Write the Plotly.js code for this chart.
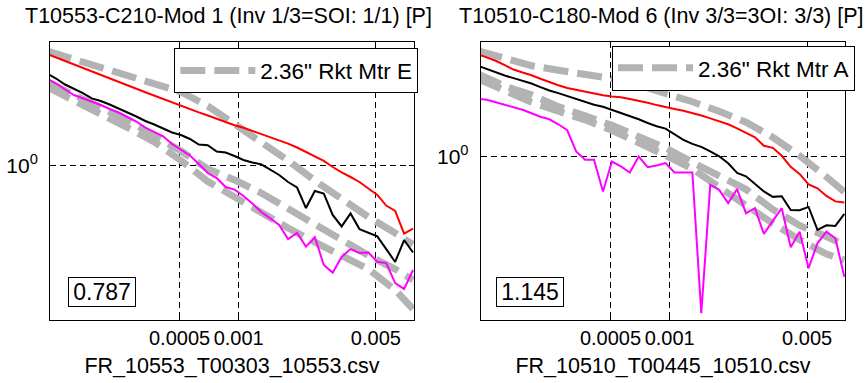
<!DOCTYPE html>
<html>
<head>
<meta charset="utf-8">
<script src="https://cdn.plot.ly/plotly-3.0.1.min.js"></script>
<style>html,body{margin:0;padding:0;background:#fff;}#chart{width:866px;height:383px;}</style>
</head>
<body>
<div id="chart"></div>
<script>
// ---- data ----
const period = [1.058e-4, 1.175e-4, 1.305e-4, 1.449e-4, 1.608e-4, 1.786e-4, 1.983e-4, 2.201e-4, 2.444e-4, 2.714e-4,
  3.013e-4, 3.345e-4, 3.715e-4, 4.124e-4, 4.579e-4, 5.085e-4, 5.645e-4, 6.268e-4, 6.960e-4, 7.728e-4,
  8.581e-4, 9.527e-4, 1.058e-3, 1.174e-3, 1.304e-3, 1.448e-3, 1.608e-3, 1.785e-3, 1.983e-3, 2.201e-3,
  2.443e-3, 2.714e-3, 3.012e-3, 3.345e-3, 3.714e-3, 4.124e-3, 4.578e-3, 5.084e-3, 5.644e-3, 6.267e-3,
  6.958e-3, 7.726e-3];
const boundPeriod = [1.058e-4, 1.449e-4, 1.983e-4, 2.714e-4, 3.715e-4, 5.085e-4, 6.960e-4, 9.527e-4,
  1.304e-3, 1.785e-3, 2.443e-3, 3.345e-3, 4.578e-3, 6.267e-3, 7.726e-3];

// left panel: T10553-C210-Mod 1
const redL = [3.618,3.479,3.342,3.214,3.087,2.965,2.848,2.738,2.630,2.526,2.427,2.331,2.241,2.153,2.068,1.986,1.916,1.849,1.784,1.720,1.644,1.594,1.547,1.494,1.445,1.395,1.347,1.290,1.233,1.171,1.118,1.056,0.985,0.925,0.878,0.829,0.769,0.714,0.632,0.594,0.458,0.485];
const blackL = [2.891,2.729,2.547,2.432,2.309,2.170,2.106,2.023,1.939,1.845,1.762,1.673,1.607,1.540,1.466,1.424,1.360,1.276,1.265,1.178,1.164,1.118,1.068,1.038,1.014,0.957,0.899,0.829,0.778,0.614,0.747,0.726,0.567,0.497,0.577,0.482,0.463,0.443,0.383,0.330,0.425,0.368];
const magentaL = [2.729,2.576,2.404,2.257,2.175,2.094,2.012,1.921,1.845,1.752,1.663,1.552,1.474,1.403,1.284,1.205,1.125,1.020,0.919,0.868,0.782,0.759,0.706,0.647,0.587,0.545,0.505,0.430,0.461,0.394,0.439,0.319,0.292,0.350,0.383,0.366,0.368,0.331,0.326,0.259,0.242,0.301];
const upperL = [3.745,3.416,3.062,2.809,2.576,2.336,1.989,1.616,1.291,1.062,0.843,0.682,0.554,0.461,0.404];
const midL = [2.621,2.257,1.954,1.683,1.416,1.184,0.963,0.848,0.730,0.607,0.505,0.423,0.356,0.304,0.268];
const lowL = [2.475,2.131,1.834,1.552,1.314,1.062,0.834,0.693,0.587,0.488,0.415,0.356,0.304,0.239,0.192];

// right panel: T10510-C180-Mod 6
const redR = [3.254,3.145,3.020,2.868,2.729,2.636,2.556,2.455,2.358,2.278,2.206,2.156,2.109,2.065,2.030,2.000,1.982,1.943,1.905,1.862,1.813,1.768,1.734,1.698,1.656,1.607,1.557,1.504,1.454,1.388,1.318,1.252,1.135,1.109,1.012,0.891,0.822,0.729,0.696,0.638,0.599,0.591];
const blackR = [2.851,2.738,2.636,2.547,2.472,2.399,2.323,2.231,2.143,2.080,2.014,1.939,1.877,1.820,1.778,1.718,1.660,1.603,1.540,1.476,1.421,1.384,1.296,1.216,1.161,1.122,1.065,1.006,0.928,0.832,0.799,0.733,0.672,0.631,0.635,0.543,0.541,0.562,0.432,0.455,0.452,0.519];
const magentaR = [1.950,1.928,1.873,1.820,1.768,1.718,1.650,1.585,1.540,1.454,1.357,1.065,0.966,0.966,0.671,0.947,0.896,0.835,1.003,0.888,0.905,0.930,0.835,0.835,0.835,0.1654,0.724,0.684,0.587,0.690,0.523,0.554,0.412,0.479,0.554,0.3536,0.423,0.2776,0.370,0.423,0.392,0.252];
const upperR = [3.388,3.090,2.851,2.707,2.591,2.460,2.278,2.089,1.884,1.689,1.488,1.252,1.012,0.794,0.668];
const midR = [2.600,2.252,2.042,1.782,1.603,1.437,1.259,1.109,0.939,0.808,0.688,0.546,0.454,0.400,0.363];
const lowR = [2.455,2.126,1.873,1.689,1.531,1.357,1.182,1.017,0.871,0.700,0.572,0.465,0.385,0.327,0.305];

const titles = ['T10553-C210-Mod 1 (Inv 1/3=SOI: 1/1) [P]', 'T10510-C180-Mod 6 (Inv 3/3=3OI: 3/3) [P]'];
const fileNames = ['FR_10553_T00303_10553.csv', 'FR_10510_T00445_10510.csv'];
const legendNames = ['2.36" Rkt Mtr E', '2.36" Rkt Mtr A'];
const scores = ['0.787', '1.145'];
const xTickVals = [0.0005, 0.001, 0.005];
const xTickText = ['0.0005', '0.001', '0.005'];
const yTickVals = [1];
const yTickText = ['10<sup>0</sup>'];

// ---- drawing ----
const FONT = 'Liberation Sans, Arial, Helvetica, sans-serif';
const GRAY = '#b3b3b3';

function panel(xa, ya, leg, red, black, magenta, up, mid, low, name) {
  const out = [];
  [[up, true], [mid, false], [low, false]].forEach(([v, show]) => {
    out.push({x: boundPeriod, y: v, xaxis: xa, yaxis: ya, type: 'scatter', mode: 'lines',
      name: name, legend: leg, showlegend: show,
      line: {color: GRAY, width: 7, dash: '25px,9px'}});
  });
  out.push({x: period, y: red, xaxis: xa, yaxis: ya, mode: 'lines', showlegend: false, line: {color: '#ff0000', width: 2}});
  out.push({x: period, y: black, xaxis: xa, yaxis: ya, mode: 'lines', showlegend: false, line: {color: '#000000', width: 2}});
  out.push({x: period, y: magenta, xaxis: xa, yaxis: ya, mode: 'lines', showlegend: false, line: {color: '#ff00ff', width: 2}});
  return out;
}

const data = [].concat(
  panel('x', 'y', 'legend', redL, blackL, magentaL, upperL, midL, lowL, legendNames[0]),
  panel('x2', 'y2', 'legend2', redR, blackR, magentaR, upperR, midR, lowR, legendNames[1])
);

function xax(domain, anchor, title) {
  return {type: 'log', range: [-3.961, -2.107], domain: domain, anchor: anchor,
    tickvals: xTickVals, ticktext: xTickText, tickangle: 0,
    ticks: 'inside', ticklen: 5, tickcolor: '#000', showline: true, linecolor: '#000', linewidth: 1,
    mirror: 'allticks', showgrid: true, gridcolor: '#000', gridwidth: 1, griddash: '6px,4px',
    zeroline: false, tickfont: {size: 20, family: FONT, color: '#000'},
    title: {text: title, font: {size: 21.5, family: FONT, color: '#000'}, standoff: 9}};
}
function yax(domain, anchor, range) {
  return {type: 'log', range: range, domain: domain, anchor: anchor,
    tickvals: yTickVals, ticktext: yTickText, ticklabelstandoff: 7,
    ticks: 'inside', ticklen: 5, tickcolor: '#000', showline: true, linecolor: '#000', linewidth: 1,
    mirror: 'allticks', showgrid: true, gridcolor: '#000', gridwidth: 1, griddash: '6px,4px',
    zeroline: false, tickfont: {size: 21, family: FONT, color: '#000'}};
}

const yDom = [0.1645, 0.8903];
const legendBase = {bgcolor: '#fff', bordercolor: '#000', borderwidth: 1, xanchor: 'left', yanchor: 'top',
  font: {size: 22.5, family: FONT, color: '#000'}, itemwidth: 75};

const layout = {
  width: 866, height: 383,
  margin: {l: 0, r: 0, t: 0, b: 0, pad: 0},
  paper_bgcolor: '#fff', plot_bgcolor: '#fff',
  font: {family: FONT, color: '#000'},
  xaxis: xax([0.05774, 0.47806], 'y', fileNames[0]),
  yaxis: yax(yDom, 'x', [-0.7715, 0.6185]),
  xaxis2: xax([0.55508, 0.97610], 'y2', fileNames[1]),
  yaxis2: yax(yDom, 'x2', [-0.815, 0.5735]),
  legend: Object.assign({x: 0.2013, y: 0.8734}, legendBase),
  legend2: Object.assign({x: 0.7067, y: 0.8807}, legendBase),
  annotations: [
    {text: titles[0], xref: 'paper', yref: 'paper', x: 0.2639, y: 0.9595, xanchor: 'center', yanchor: 'middle',
     showarrow: false, font: {size: 21.5, family: FONT, color: '#000'}},
    {text: titles[1], xref: 'paper', yref: 'paper', x: 0.7633, y: 0.9595, xanchor: 'center', yanchor: 'middle',
     showarrow: false, font: {size: 21.5, family: FONT, color: '#000'}},
    {text: scores[0], xref: 'paper', yref: 'paper', x: 0.1177, y: 0.2381, xanchor: 'center', yanchor: 'middle',
     showarrow: false, bordercolor: '#000', borderwidth: 1, borderpad: 1, bgcolor: '#fff', width: 64,
     font: {size: 23, family: FONT, color: '#000'}},
    {text: scores[1], xref: 'paper', yref: 'paper', x: 0.6122, y: 0.2381, xanchor: 'center', yanchor: 'middle',
     showarrow: false, bordercolor: '#000', borderwidth: 1, borderpad: 1, bgcolor: '#fff', width: 64,
     font: {size: 23, family: FONT, color: '#000'}}
  ]
};

Plotly.newPlot('chart', data, layout, {staticPlot: true, displayModeBar: false});
</script>
</body>
</html>
